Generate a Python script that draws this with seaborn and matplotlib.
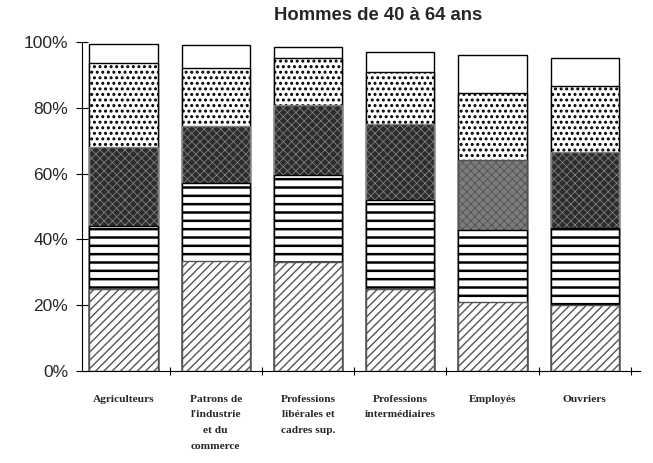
import matplotlib
matplotlib.use("Agg")
import matplotlib.pyplot as plt
import seaborn as sns
import numpy as np
import pandas as pd

categories = ["Agriculteurs",
              "Patrons de\nl'industrie\net du\ncommerce",
              "Professions\nlibérales et\ncadres sup.",
              "Professions\nintermédiaires",
              "Employés",
              "Ouvriers"]
hatched = [25, 33.5, 33, 25, 21, 20]
striped = [19, 23.5, 26.5, 27, 22, 23.5]
dark = [24, 17.5, 21.5, 23, 21, 23]
dotted = [25.5, 17.5, 14, 16, 20.5, 20]
blank = [6, 7, 3.5, 6, 11.5, 8.5]
yticks = [0, 20, 40, 60, 80, 100]
ytick_labels = ["0%", "20%", "40%", "60%", "80%", "100%"]
title = "Hommes de 40 à 64 ans"

sns.set_theme(style="white")
plt.rcParams['font.family'] = ['Liberation Sans', 'DejaVu Sans']

layers = [hatched, striped, dark, dotted, blank]
cum = np.cumsum(np.array(layers), axis=0)

styles = [
    dict(color="white", hatch="////", edgecolor="#555555", hlw=1.0),
    dict(color="white", hatch="--", edgecolor="black", hlw=1.8),
    dict(color="#2c2c2c", hatch="xxxx", edgecolor="#808080", hlw=0.6),
    dict(color="white", hatch="...", edgecolor="black", hlw=1.4),
    dict(color="white", hatch="", edgecolor="black", hlw=1.0),
]

fig = plt.figure(figsize=(6.53, 4.63), dpi=100)
ax = fig.add_axes([82/653, 1-371/463, (640-82)/653, (371-42)/463])

for i in range(len(layers) - 1, -1, -1):
    st = styles[i]
    df = pd.DataFrame({"cat": categories, "val": cum[i]})
    with plt.rc_context({'hatch.linewidth': st["hlw"]}):
        sns.barplot(data=df, x="cat", y="val", color=st["color"], saturation=1,
                    hatch=st["hatch"] if st["hatch"] else None,
                    edgecolor=st["edgecolor"], linewidth=1.0, width=0.74, ax=ax)
    cont = ax.containers[-1]
    for p in cont:
        if hasattr(p, "set_hatch_linewidth"):
            p.set_hatch_linewidth(st["hlw"])
    if i == 2:
        cont[4].set_facecolor("#7c7c7c")
        cont[4].set_edgecolor("#505050")

ax.set_xlim(-0.45, 5.6)
ax.set_ylim(0, 100)
ax.set_yticks(yticks)
ax.set_yticklabels(ytick_labels, fontsize=12.5)
ax.set_xlabel("")
ax.set_ylabel("")
ax.set_xticks(range(len(categories)))
ax.set_xticklabels(categories, fontsize=8.2, fontweight="bold",
                   family=["Liberation Serif", "DejaVu Serif"], linespacing=1.95,
                   va="top")
ax.set_xticks(np.arange(len(categories)) + 0.5, minor=True)
ax.tick_params(axis="x", which="major", length=0, pad=17)
ax.tick_params(axis="x", which="minor", length=6, direction="inout", width=0.8, color="black")
ax.tick_params(axis="y", which="major", length=8, direction="inout", width=0.8, color="black", pad=6)
ax.yaxis.set_ticks_position("left")
ax.xaxis.set_ticks_position("bottom")

sns.despine(ax=ax)
ax.spines["left"].set_color("black")
ax.spines["bottom"].set_color("black")
ax.spines["left"].set_linewidth(0.8)
ax.spines["bottom"].set_linewidth(0.8)

fig.text(378/653, 1-16/463, title, ha="center", va="center", fontsize=13.3, fontweight="bold")

fig.savefig("out.png", dpi=100, facecolor="white")
